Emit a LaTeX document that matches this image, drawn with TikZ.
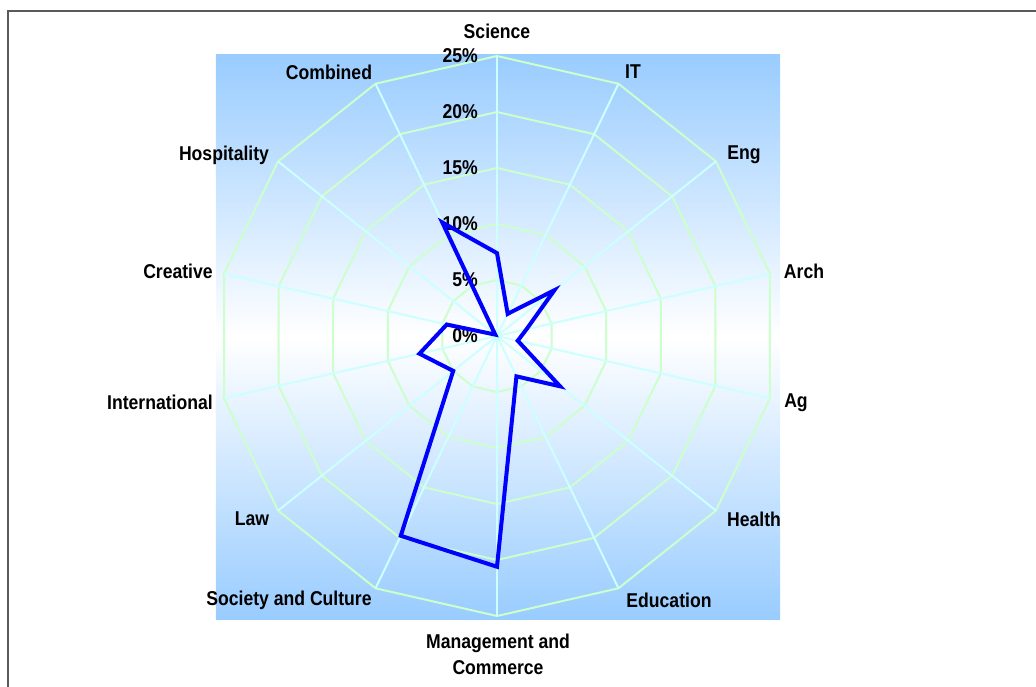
\documentclass[tikz,border=0pt]{standalone}
\usepackage{fontspec}
\setmainfont{Liberation Sans}[FakeStretch=0.88]
\definecolor{bgblue}{RGB}{153,204,255}
\definecolor{ringgreen}{RGB}{204,255,204}
\definecolor{spokecyan}{RGB}{204,255,255}
\definecolor{datablue}{RGB}{0,0,255}
\definecolor{framegray}{RGB}{90,90,90}
\begin{document}
\begin{tikzpicture}[x=1pt,y=1pt,
  ring/.style={draw=ringgreen, line width=2pt, line join=round},
  spoke/.style={draw=spokecyan, line width=2pt},
  dataline/.style={draw=datablue, line width=4pt, line join=miter},
  cat/.style={font=\fontsize{20}{26}\selectfont\bfseries, inner sep=0pt, align=center},
  ticklab/.style={font=\fontsize{20}{22}\selectfont\bfseries, inner sep=0pt, anchor=east}]
\useasboundingbox (-497,-350) rectangle (539,336);
% frame
\coordinate (fa) at (-489,-360);
\coordinate (fb) at (-489,325);
\coordinate (fc) at (550,325);
\draw[framegray, line width=1.6pt] (fa) -- (fb) -- (fc);
% background
\shade[top color=bgblue, bottom color=bgblue, middle color=white] (-281,-283) rectangle (283,281);
% rings
\foreach \k in {1,...,5} {
  \draw[ring] (90:\k*56) \foreach \i in {1,...,13} { -- ({90-\i*360/14}:\k*56) } -- cycle;
}
% spokes
\coordinate (c) at (0,0);
\foreach \i in {0,...,13} {
  \coordinate (s\i) at ({90-\i*360/14}:280);
  \draw[spoke] (c) -- (s\i);
}
% tick labels
\foreach \k in {0,...,5} {
  \pgfmathtruncatemacro{\pct}{\k*5}
  \node[ticklab] (t\k) at (-19,\k*56) {\pct\%};
}
% data
\foreach \v [count=\i from 0] in {7.4,2.2,6.55,2.7,1.9,7.2,4.0,20.6,19.8,5.0,7.1,4.6,0.2,11.25} {
  \coordinate (p\i) at ({90-\i*360/14}:{\v*11.2});
}
\draw[dataline] (p0) -- (p1) -- (p2) -- (p3) -- (p4) -- (p5) -- (p6) -- (p7)
  -- (p8) -- (p9) -- (p10) -- (p11) -- (p12) -- (p13) -- cycle;
% category labels
\node[cat] (science) at (0,305) {Science};
\node[cat] (it) at (136,264) {IT};
\node[cat] (eng) at (247,181) {Eng};
\node[cat] (arch) at (307,65) {Arch};
\node[cat] (ag) at (299,-67) {Ag};
\node[cat] (health) at (257,-183) {Health};
\node[cat] (edu) at (172,-264) {Education};
\node[cat] (mgmt) at (1,-318) {Management and\\Commerce};
\node[cat] (soc) at (-208,-264) {Society and Culture};
\node[cat] (law) at (-245,-183) {Law};
\node[cat] (intl) at (-337,-66) {International};
\node[cat] (creative) at (-319,65) {Creative};
\node[cat] (hosp) at (-273,181) {Hospitality};
\node[cat] (comb) at (-168,264) {Combined};
\end{tikzpicture}
\end{document}
